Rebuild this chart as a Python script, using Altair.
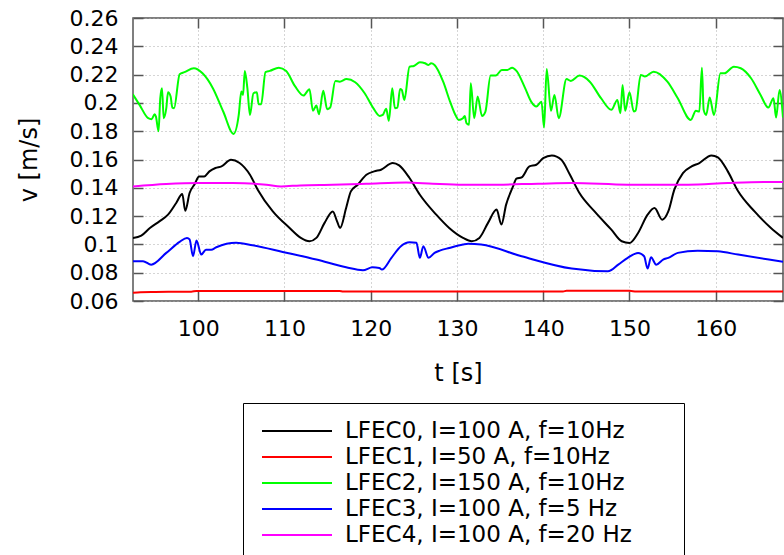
import altair as alt
import pandas as pd

FONT = "DejaVu Sans"

series_names = [
    "LFEC0, I=100 A, f=10Hz",
    "LFEC1, I=50 A, f=10Hz",
    "LFEC2, I=150 A, f=10Hz",
    "LFEC3, I=100 A, f=5 Hz",
    "LFEC4, I=100 A, f=20 Hz",
]
series_colors = ["#000000", "#ff0000", "#00ff00", "#0000ff", "#ff00ff"]

x_ticks = [100, 110, 120, 130, 140, 150, 160]
y_ticks = [0.06, 0.08, 0.10, 0.12, 0.14, 0.16, 0.18, 0.20, 0.22, 0.24, 0.26]

t0 = [92.44, 93.4, 94.4, 95.5, 96.5, 97.45, 98.15, 98.5, 99.0, 99.6, 100.1, 100.7, 101.3, 102.0,
      102.7, 103.8, 104.8, 106.0, 106.9, 108.65, 110.6, 111.9, 112.9, 113.7, 114.65, 115.6, 116.1,
      116.45, 117.15, 117.7, 118.5, 119.5, 120.4, 121.2, 122.55, 123.3, 124.5, 125.7, 127.6, 129.1,
      130.7, 131.7, 132.6, 133.6, 134.6, 135.15, 135.7, 136.5, 136.9, 137.5, 138.4, 139.2, 140.0,
      141.0, 142.1, 143.1, 144.2, 145.95, 147.9, 149.1, 150.0, 151.0, 152.1, 152.9, 153.8, 154.5,
      155.2, 156.2, 157.2, 158.1, 159.5, 160.25, 161.4, 162.6, 164.5, 166.4, 167.8]
v0 = [0.1046, 0.1062, 0.1116, 0.1163, 0.1210, 0.1293, 0.1356, 0.1238, 0.1363, 0.1427, 0.1480, 0.1480,
      0.1516, 0.1540, 0.1551, 0.1598, 0.1575, 0.1492, 0.1387, 0.1233, 0.1116, 0.1046, 0.1022, 0.1046,
      0.1152, 0.1233, 0.1163, 0.1116, 0.1257, 0.1375, 0.1422, 0.1492, 0.1516, 0.1528, 0.1575, 0.1558,
      0.1469, 0.1351, 0.1210, 0.1116, 0.1046, 0.1022, 0.1046, 0.1152, 0.1246, 0.1140, 0.1281, 0.1410,
      0.1464, 0.1474, 0.1551, 0.1563, 0.1610, 0.1629, 0.1598, 0.1492, 0.1363, 0.1233, 0.1104, 0.1022,
      0.1010, 0.1081, 0.1210, 0.1257, 0.1175, 0.1233, 0.1387, 0.1504, 0.1551, 0.1575, 0.1629, 0.1615,
      0.1516, 0.1375, 0.1233, 0.1116, 0.1046]

t1 = [92.44, 93.3, 95.0, 99.2, 99.8, 116.4, 116.8, 142.3, 142.7, 150.0, 150.8, 167.8]
v1 = [0.0658, 0.0662, 0.0664, 0.0666, 0.0671, 0.0671, 0.0667, 0.0667, 0.0672, 0.0672, 0.0667, 0.0667]

t2 = [92.4, 93.2, 94.2, 94.6, 94.95, 95.1, 95.4, 95.6, 95.8, 96.0, 96.3, 96.5, 96.8, 97.0, 97.2, 97.85,
      98.4, 99.5, 100.5, 101.7, 102.9, 104.1, 104.7, 105.0, 105.2, 105.4, 105.7, 106.0, 106.4, 106.8,
      107.0, 107.3, 107.8, 108.3, 109.35, 110.2, 111.2, 112.2, 112.9, 113.3, 113.7, 114.0, 114.5,
      114.95, 115.3, 115.9, 116.4, 117.2, 118.2, 119.3, 120.3, 121.05, 121.4, 121.8, 122.1, 122.5,
      122.8, 123.1, 123.4, 123.6, 123.9, 124.5, 125.0, 125.7, 126.3, 126.7, 127.0, 127.4, 128.4,
      129.2, 129.9, 130.2, 130.7, 130.9, 131.1, 131.4, 131.6, 132.0, 132.4, 132.9, 133.3, 133.9,
      134.5, 135.2, 135.85, 136.4, 136.9, 137.9, 138.6, 139.2, 139.8, 140.1, 140.4, 140.9, 141.3,
      141.8, 142.7, 143.2, 144.2, 145.4, 146.7, 147.9, 148.6, 148.95, 149.2, 149.5, 150.0, 150.5,
      150.7, 151.3, 151.8, 152.8, 154.4, 155.6, 157.1, 157.7, 158.1, 158.4, 158.6, 158.9, 159.3,
      159.8, 160.55, 161.0, 162.1, 162.9, 164.1, 165.2, 166.1, 166.7, 167.0, 167.4, 167.8]
v2 = [0.2062, 0.1986, 0.1892, 0.1885, 0.1920, 0.1903, 0.1800, 0.2033, 0.2104, 0.1892, 0.1963, 0.2075,
      0.2045, 0.1967, 0.1963, 0.2203, 0.2217, 0.2245, 0.2209, 0.2104, 0.1939, 0.1781, 0.1915, 0.2080,
      0.2056, 0.2226, 0.2104, 0.1915, 0.2068, 0.2075, 0.1991, 0.1991, 0.2217, 0.2226, 0.2249, 0.2226,
      0.2120, 0.2052, 0.2097, 0.1944, 0.1981, 0.1920, 0.2085, 0.1956, 0.1967, 0.2155, 0.2150, 0.2169,
      0.2146, 0.2068, 0.1963, 0.1908, 0.1915, 0.1958, 0.1873, 0.2104, 0.1963, 0.1967, 0.2099, 0.2092,
      0.2021, 0.2256, 0.2261, 0.2287, 0.2280, 0.2268, 0.2280, 0.2268, 0.2150, 0.2009, 0.1905, 0.1880,
      0.1892, 0.1908, 0.1857, 0.1845, 0.2139, 0.1892, 0.2045, 0.1908, 0.1939, 0.2193, 0.2193, 0.2233,
      0.2233, 0.2249, 0.2226, 0.2104, 0.2009, 0.1974, 0.2009, 0.1826, 0.2240, 0.1944, 0.2056, 0.1892,
      0.2169, 0.2155, 0.2193, 0.2150, 0.2033, 0.1951, 0.2021, 0.1927, 0.2127, 0.1944, 0.2075, 0.1939,
      0.1944, 0.2198, 0.2186, 0.2221, 0.2150, 0.2033, 0.1880, 0.1944, 0.1939, 0.2249, 0.1951, 0.1915,
      0.2038, 0.1915, 0.2209, 0.2209, 0.2256, 0.2245, 0.2174, 0.2056, 0.1967, 0.2033, 0.1896, 0.2092,
      0.1896]

t3 = [92.44, 93.6, 94.55, 96.3, 97.85, 98.7, 99.0, 99.4, 99.8, 100.35, 100.9, 101.5, 102.1, 104.4,
      106.3, 109.8, 113.7, 117.15, 119.1, 120.2, 121.0, 121.3, 122.4, 123.5, 124.5, 125.3, 125.7,
      126.1, 126.7, 127.4, 128.0, 129.1, 130.7, 131.3, 132.8, 137.5, 143.3, 147.5, 148.7, 149.8,
      151.0, 151.7, 152.1, 152.5, 153.1, 153.9, 154.5, 155.6, 157.9, 160.25, 162.6, 167.8]
v3 = [0.0881, 0.0881, 0.0857, 0.0940, 0.1018, 0.1046, 0.1035, 0.0916, 0.1027, 0.0928, 0.0963, 0.0963,
      0.0980, 0.1011, 0.0994, 0.0947, 0.0893, 0.0838, 0.0817, 0.0838, 0.0834, 0.0822, 0.0905, 0.0987,
      0.1015, 0.1011, 0.0905, 0.0987, 0.0905, 0.0940, 0.0956, 0.0975, 0.0999, 0.1004, 0.0999, 0.0916,
      0.0829, 0.0810, 0.0857, 0.0905, 0.0940, 0.0916, 0.0829, 0.0909, 0.0857, 0.0893, 0.0905, 0.0940,
      0.0956, 0.0951, 0.0928, 0.0877]

t4 = [92.44, 96.3, 100.2, 104.0, 107.9, 109.6, 111.8, 115.6, 119.5, 124.1, 127.2, 130.7, 133.6, 139.4,
      143.3, 149.8, 156.8, 161.4, 165.9, 167.8]
v4 = [0.1410, 0.1427, 0.1434, 0.1434, 0.1422, 0.1410, 0.1417, 0.1422, 0.1429, 0.1438, 0.1429, 0.1422,
      0.1422, 0.1429, 0.1434, 0.1422, 0.1422, 0.1434, 0.1441, 0.1441]

frames = []
for name, ts, vs in zip(series_names, [t0, t1, t2, t3, t4], [v0, v1, v2, v3, v4]):
    frames.append(pd.DataFrame({"t": ts, "v": vs, "series": name, "order": range(len(ts))}))
df = pd.concat(frames, ignore_index=True)

x_scale = alt.Scale(domain=[92.44, 167.8], nice=False, zero=False)
y_scale = alt.Scale(domain=[0.06, 0.26], nice=False, zero=False)

main = alt.Chart(df).mark_line(strokeWidth=2, clip=True, interpolate="monotone").encode(
    x=alt.X("t:Q", scale=x_scale, title="t [s]",
            axis=alt.Axis(values=x_ticks, orient="bottom", tickSize=10, offset=-10,
                          domain=False, labelPadding=17, titlePadding=22, grid=True,
                          format="d")),
    y=alt.Y("v:Q", scale=y_scale, title="v [m/s]",
            axis=alt.Axis(values=y_ticks, orient="left", tickSize=10, offset=-10,
                          domain=False, labelPadding=15, titlePadding=28, grid=True,
                          format=".2~f")),
    color=alt.Color("series:N", scale=alt.Scale(domain=series_names, range=series_colors),
                    legend=alt.Legend(orient="none", legendX=110, legendY=385, title=None,
                                      symbolType="stroke", symbolSize=4900, symbolStrokeWidth=2,
                                      clipHeight=20, rowPadding=3, labelOffset=12,
                                      labelFontSize=23, labelFont=FONT, labelColor="#000000",
                                      labelExpr="datum.label + '\u2800\u2800'",
                                      padding=18, strokeColor="#000000", fillColor="#ffffff",
                                      labelLimit=800)),
    order="order:Q",
)

frame = alt.Chart(df).mark_line(opacity=0).encode(
    x=alt.X("t:Q", scale=x_scale, title=None,
            axis=alt.Axis(values=x_ticks, orient="top", tickSize=10, offset=-10,
                          domain=False, labels=False, grid=False)),
    y=alt.Y("v:Q", scale=y_scale, title=None,
            axis=alt.Axis(values=y_ticks, orient="right", tickSize=10, offset=-10,
                          domain=False, labels=False, grid=False)),
    detail="series:N",
    order="order:Q",
)

chart = alt.layer(main, frame).resolve_axis(x="independent", y="independent").properties(
    width=650, height=283,
    autosize=alt.AutoSizeParams(type="none"),
    padding={"left": 133, "top": 18, "right": 1, "bottom": 254},
).configure_view(
    stroke="#555555", strokeWidth=1.5
).configure_axis(
    labelFont=FONT, titleFont=FONT, labelFontSize=22, titleFontSize=24,
    labelColor="#000000", titleColor="#000000", titleFontWeight="normal",
    tickColor="#555555", tickWidth=1.5,
    gridColor="#aaaaaa", gridDash=[1, 3], gridWidth=1,
)

chart.save("out.html", embed_options={"renderer": "svg", "actions": False})
